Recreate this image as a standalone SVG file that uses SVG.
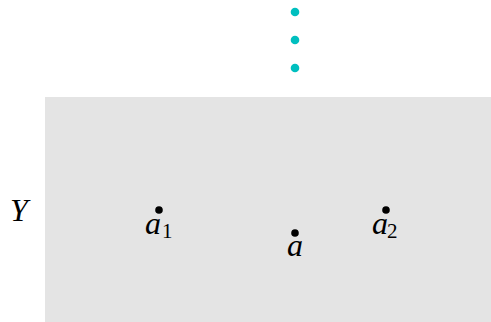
<svg xmlns="http://www.w3.org/2000/svg" width="491" height="322" viewBox="0 0 491 322">
<defs>
<style>
.cy{fill:#00BFBF}
.pt{fill:#000}
</style>
</defs>
<rect id="Y-region" x="45" y="97" width="446" height="225" fill="#E4E4E4"/>
<g font-family="Liberation Serif, Times New Roman, serif" fill="#000">
<text font-style="italic" font-size="32" x="10" y="221">Y</text>
<g id="dots-cyan">
<circle class="cy" cx="295" cy="12" r="4.3"/>
<circle class="cy" cx="295" cy="40" r="4.3"/>
<circle class="cy" cx="295" cy="68" r="4.3"/>
</g>
<g id="a1">
<circle class="pt" cx="159" cy="210" r="3.8"/>
<text font-style="italic" font-size="32" x="145" y="234">a</text><text font-size="21" x="162" y="238">1</text>
</g>
<g id="a">
<circle class="pt" cx="295" cy="233" r="3.8"/>
<text font-style="italic" font-size="32" x="287" y="256">a</text>
</g>
<g id="a2">
<circle class="pt" cx="386" cy="210" r="3.8"/>
<text font-style="italic" font-size="32" x="372" y="234">a</text><text font-size="21" x="387" y="238">2</text>
</g>
</g>
<g id="connectors"/>
</svg>
